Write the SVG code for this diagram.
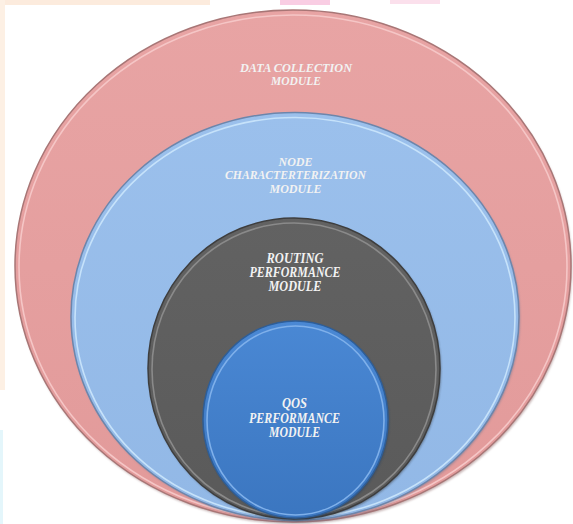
<svg xmlns="http://www.w3.org/2000/svg" width="573" height="524" viewBox="0 0 573 524">
  <defs>
    <linearGradient id="gPink" x1="0" y1="0" x2="0" y2="1">
      <stop offset="0" stop-color="#E8A4A4"/>
      <stop offset="1" stop-color="#E29A9A"/>
    </linearGradient>
    <linearGradient id="gSky" x1="0" y1="0" x2="0" y2="1">
      <stop offset="0" stop-color="#9BC0EC"/>
      <stop offset="1" stop-color="#92B8E6"/>
    </linearGradient>
    <linearGradient id="gGrey" x1="0" y1="0" x2="0" y2="1">
      <stop offset="0" stop-color="#626262"/>
      <stop offset="1" stop-color="#5A5A5A"/>
    </linearGradient>
    <linearGradient id="gBlue" x1="0" y1="0" x2="0" y2="1">
      <stop offset="0" stop-color="#4A88D4"/>
      <stop offset="1" stop-color="#3B76C0"/>
    </linearGradient>
    <filter id="soft" x="-5%" y="-5%" width="110%" height="110%">
      <feGaussianBlur stdDeviation="1.2"/>
    </filter>
  </defs>
  <style>
    .lbl { font-family: "Liberation Serif", "Times New Roman", serif; font-weight: bold; font-style: italic; fill: #F2F2F2; text-anchor: middle; }
    .s12 { font-size: 12px; }
    .s14 { font-size: 14px; }
    .hl { fill: none; stroke-width: 1.6; }
  </style>

  <!-- page background with faint decorations -->
  <rect width="573" height="524" fill="#FFFFFF"/>
  <rect x="0" y="0" width="210" height="5" fill="#FCEBDD"/>
  <rect x="280" y="0" width="50" height="5" fill="#F9CDE3"/>
  <rect x="390" y="0" width="50" height="4" fill="#FBE0EC"/>
  <rect x="0" y="0" width="5" height="390" fill="#FDF0E4"/>
  <rect x="0" y="430" width="3" height="94" fill="#E4F6FB"/>

  <!-- outer ring: data collection -->
  <g id="data-collection">
    <ellipse cx="294" cy="268" rx="278" ry="256" fill="#8F6A6A" opacity="0.5" filter="url(#soft)"/>
    <ellipse cx="293" cy="266" rx="278" ry="256" fill="url(#gPink)" stroke="#A87676" stroke-width="1.5"/>
    <ellipse class="hl" cx="293" cy="267" rx="274" ry="252" stroke="#F5C6C6"/>
    <text class="lbl s12" x="296" y="71.5" textLength="112" lengthAdjust="spacingAndGlyphs">DATA COLLECTION</text>
    <text class="lbl s12" x="296" y="85" textLength="50" lengthAdjust="spacingAndGlyphs">MODULE</text>
  </g>

  <!-- second ring: node characterization -->
  <g id="node-characterization">
    <ellipse cx="296" cy="318" rx="224" ry="204" fill="#5E7390" opacity="0.5" filter="url(#soft)"/>
    <ellipse cx="295" cy="316.5" rx="224" ry="204" fill="url(#gSky)" stroke="#6C86AC" stroke-width="1.5"/>
    <ellipse class="hl" cx="295" cy="317.5" rx="220" ry="200" stroke="#C6E2FA"/>
    <text class="lbl s12" x="295.5" y="165.5" textLength="34" lengthAdjust="spacingAndGlyphs">NODE</text>
    <text class="lbl s12" x="295.5" y="179" textLength="141" lengthAdjust="spacingAndGlyphs">CHARACTERTERIZATION</text>
    <text class="lbl s12" x="295.5" y="192.5" textLength="52" lengthAdjust="spacingAndGlyphs">MODULE</text>
  </g>

  <!-- third ring: routing performance -->
  <g id="routing-performance">
    <ellipse cx="295" cy="370" rx="146" ry="150.5" fill="#2E2E2E" opacity="0.5" filter="url(#soft)"/>
    <ellipse cx="294" cy="368.5" rx="146" ry="150.5" fill="url(#gGrey)" stroke="#3E3E3E" stroke-width="1.5"/>
    <ellipse class="hl" cx="294" cy="369.5" rx="142" ry="146.5" stroke="#8A8A8A"/>
    <text class="lbl s14" x="295" y="263" textLength="57" lengthAdjust="spacingAndGlyphs">ROUTING</text>
    <text class="lbl s14" x="295" y="277" textLength="91" lengthAdjust="spacingAndGlyphs">PERFORMANCE</text>
    <text class="lbl s14" x="295" y="291" textLength="53" lengthAdjust="spacingAndGlyphs">MODULE</text>
  </g>

  <!-- core: QoS performance -->
  <g id="qos-performance">
    <ellipse cx="296.5" cy="421" rx="92.5" ry="98.5" fill="#1E3E66" opacity="0.5" filter="url(#soft)"/>
    <ellipse cx="295.5" cy="419.5" rx="92.5" ry="98.5" fill="url(#gBlue)" stroke="#2E5E98" stroke-width="1.5"/>
    <ellipse class="hl" cx="295.5" cy="420.5" rx="88.5" ry="94.5" stroke="#7FB0EA"/>
    <text class="lbl s14" x="294.5" y="408" textLength="25" lengthAdjust="spacingAndGlyphs">QOS</text>
    <text class="lbl s14" x="294.5" y="423" textLength="91" lengthAdjust="spacingAndGlyphs">PERFORMANCE</text>
    <text class="lbl s14" x="294.5" y="437" textLength="51" lengthAdjust="spacingAndGlyphs">MODULE</text>
  </g>
</svg>
